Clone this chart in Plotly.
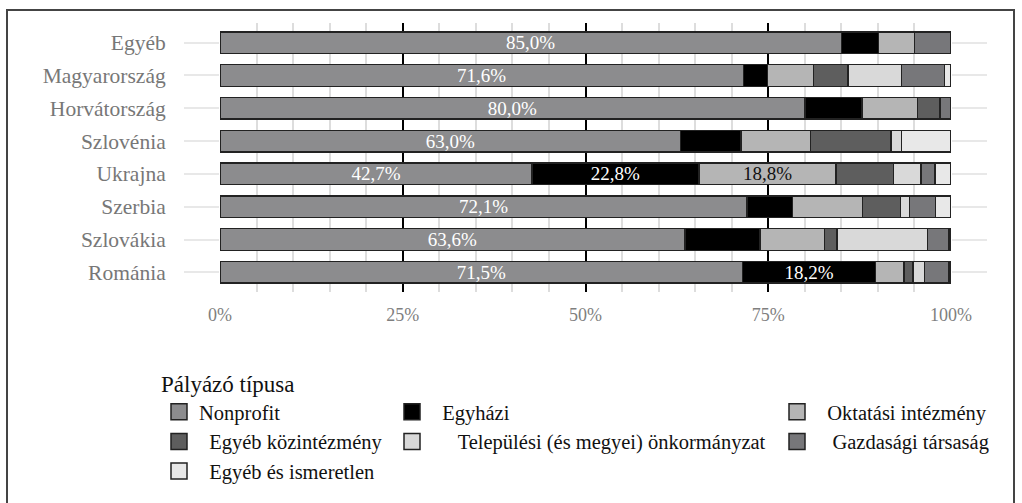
import plotly.graph_objects as go

countries = ["Egyéb", "Magyarország", "Horvátország", "Szlovénia",
             "Ukrajna", "Szerbia", "Szlovákia", "Románia"]

nonprofit = [85.0, 71.6, 80.0, 63.0, 42.7, 72.1, 63.6, 71.5]
egyhazi = [5.1, 3.3, 7.8, 8.3, 22.8, 6.2, 10.3, 18.2]
oktatasi = [4.9, 6.3, 7.6, 9.5, 18.8, 9.6, 8.8, 3.9]
kozintezmeny = [0.0, 4.7, 3.1, 11.0, 7.8, 5.2, 1.7, 1.2]
telepulesi = [0.0, 7.3, 0.0, 1.4, 3.8, 1.2, 12.4, 1.6]
gazdasagi = [5.0, 5.9, 1.5, 0.0, 1.9, 3.6, 2.9, 3.3]
egyeb_ism = [0.0, 0.9, 0.0, 6.8, 2.2, 2.1, 0.3, 0.3]

x_tickvals = [0, 25, 50, 75, 100]
x_ticktext = ["0%", "25%", "50%", "75%", "100%"]

NB = "\u00a0"
series = [
    # name, values, color, label color, legend id, legend display name
    ("Nonprofit", nonprofit, "#8c8c8e", "white", "legend", "Nonprofit"),
    ("Egyházi", egyhazi, "#000000", "white", "legend2", NB * 2 + "Egyházi"),
    ("Oktatási intézmény", oktatasi, "#b5b5b5", "#111111", "legend3", NB * 2 + "Oktatási intézmény"),
    ("Egyéb közintézmény", kozintezmeny, "#5e5e5e", "white", "legend", NB * 2 + "Egyéb közintézmény"),
    ("Települési (és megyei) önkormányzat", telepulesi, "#d9d9d9", "#111111", "legend2",
     NB * 5 + "Települési (és megyei) önkormányzat"),
    ("Gazdasági társaság", gazdasagi, "#77777a", "white", "legend3", NB * 3 + "Gazdasági társaság"),
    ("Egyéb és ismeretlen", egyeb_ism, "#e8e8e8", "#111111", "legend", NB * 2 + "Egyéb és ismeretlen"),
]

FONT = "Liberation Serif, Times New Roman, serif"

fig = go.Figure()

for name, vals, color, tcol, leg, disp in series:
    texts = [(f"{v:.1f}%".replace(".", ",") if v >= 15 else "") for v in vals]
    fig.add_trace(go.Bar(
        y=countries, x=vals, orientation="h", name=name,
        marker=dict(color=color, line=dict(color="#222222", width=1.5)),
        text=texts, textposition="inside", insidetextanchor="middle",
        textangle=0, constraintext="none",
        textfont=dict(family=FONT, size=19, color=tcol),
        width=0.66, showlegend=False, hoverinfo="skip",
    ))

# legend entries
for name, vals, color, tcol, leg, disp in series:
    fig.add_trace(go.Scatter(
        x=[None], y=[None], mode="markers", name=disp, legend=leg,
        marker=dict(symbol="square", size=17, color=color,
                    line=dict(color="#222222", width=1.5)),
        showlegend=True, hoverinfo="skip",
    ))

W, H = 1022, 503
H_TOP, H_BOT = 23, 292
L, R = 220, 951


def py(px):
    return (H_BOT - px) / (H_BOT - H_TOP)


def px_(x):
    return (x - L) / (R - L)


leg_common = dict(orientation="v", bgcolor="rgba(0,0,0,0)",
                  font=dict(family=FONT, size=20.5, color="#111111"),
                  xanchor="left", yanchor="top", itemclick=False,
                  traceorder="normal", xref="container", yref="container")

fig.update_layout(
    width=W, height=H,
    margin=dict(l=L, r=W - R, t=H_TOP, b=H - H_BOT, autoexpand=False),
    paper_bgcolor="white", plot_bgcolor="white",
    barmode="stack",
    font=dict(family=FONT),
    xaxis=dict(range=[0, 100], tickvals=x_tickvals, ticktext=x_ticktext,
               showgrid=True, gridcolor="#000000", gridwidth=2,
               minor=dict(dtick=5, showgrid=True, gridcolor="#dddddd", gridwidth=1.5),
               zeroline=False, showline=False, ticks="",
               tickfont=dict(family=FONT, size=18, color="#7f7f7f"),
               ticklabelstandoff=10, automargin=False, fixedrange=True),
    yaxis=dict(categoryorder="array", categoryarray=countries[::-1],
               range=[-0.6, 7.6], showgrid=False, zeroline=False,
               ticks="outside", ticklen=35, tickcolor="#e8e8e8", tickwidth=2,
               mirror="ticks", showline=False,
               tickfont=dict(family=FONT, size=21.5, color="#777777"),
               ticklabelstandoff=14, automargin=False, fixedrange=True),
    legend=dict(**leg_common, x=159 / W, y=1 - 362 / H,
                title=dict(text="Pályázó típusa", side="top",
                           font=dict(family=FONT, size=23, color="#111111"))),
    legend2=dict(**leg_common, x=392 / W, y=1 - 392 / H),
    legend3=dict(**leg_common, x=777 / W, y=1 - 392 / H),
    shapes=[dict(type="rect", xref="paper", yref="paper",
                 x0=px_(7), x1=px_(1014), y0=py(530), y1=py(10),
                 line=dict(color="#444444", width=2), fillcolor="rgba(0,0,0,0)",
                 layer="below")],
)

fig.write_html("out.html", config={"displayModeBar": False},
               post_script="document.body.style.margin='0';")
